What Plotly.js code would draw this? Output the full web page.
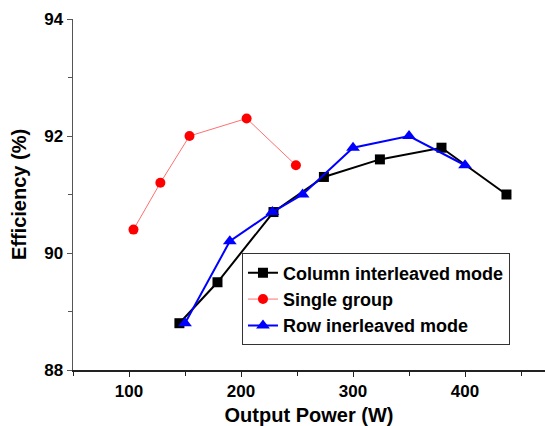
<!DOCTYPE html>
<html>
<head>
<meta charset="utf-8">
<script src="https://cdn.plot.ly/plotly-3.0.1.min.js"></script>
<style>html,body{margin:0;padding:0;background:#fff;}#chart{width:545px;height:426px;}</style>
</head>
<body>
<div id="chart"></div>
<script>
// Column interleaved mode
const colX = [145, 179, 229, 274, 324, 379, 437];
const colY = [88.8, 89.5, 90.7, 91.3, 91.6, 91.8, 91.0];
// Single group
const singleX = [104, 128, 154, 205, 249];
const singleY = [90.4, 91.2, 92.0, 92.3, 91.5];
// Row inerleaved mode
const rowX = [150, 190, 228, 255, 300, 350, 400];
const rowY = [88.8, 90.2, 90.7, 91.0, 91.8, 92.0, 91.5];

const seriesNames = ["Column interleaved mode", "Single group", "Row inerleaved mode"];
const xTicks = [100, 200, 300, 400];
const yTicks = [88, 90, 92, 94];

const FONT = "Liberation Sans, Arial, sans-serif";

const traces = [
  {x: colX, y: colY, name: seriesNames[0], mode: "lines+markers",
   line: {color: "#000000", width: 2},
   marker: {symbol: "square", size: 10, color: "#000000"}},
  {x: singleX, y: singleY, name: seriesNames[1], mode: "lines+markers",
   line: {color: "#ff7070", width: 1},
   marker: {symbol: "circle", size: 10, color: "#ff0000"}},
  {x: rowX, y: rowY, name: seriesNames[2], mode: "lines+markers",
   line: {color: "#0000ff", width: 2},
   marker: {symbol: "triangle-up", size: 12, color: "#0000ff"}}
];

const layout = {
  width: 545, height: 426,
  margin: {l: 73, r: 0, t: 19, b: 56},
  paper_bgcolor: "#ffffff", plot_bgcolor: "#ffffff",
  font: {family: FONT, color: "#000000"},
  showlegend: true,
  legend: {
    x: 0.358, y: 0.332, xanchor: "left", yanchor: "top",
    bordercolor: "#333333", borderwidth: 1, bgcolor: "#ffffff",
    font: {family: FONT, size: 18, weight: "bold", color: "#000000"}
  },
  xaxis: {
    range: [50, 471.4], tickvals: xTicks, ticks: "outside", ticklen: 5,
    tickcolor: "#222", showline: true, linecolor: "#222", linewidth: 1.5,
    showgrid: false, zeroline: false,
    tickfont: {family: FONT, size: 17, weight: "bold"},
    minor: {dtick: 50, tick0: 0, ticks: "outside", ticklen: 4, tickcolor: "#222", showgrid: false},
    title: {text: "Output Power (W)", font: {family: FONT, size: 20, weight: "bold"}, standoff: 8}
  },
  yaxis: {
    range: [88, 94], tickvals: yTicks, ticks: "outside", ticklen: 5,
    tickcolor: "#555", showline: true, linecolor: "#555", linewidth: 1.5,
    showgrid: false, zeroline: false,
    tickfont: {family: FONT, size: 17, weight: "bold"},
    minor: {dtick: 1, tick0: 88, ticks: "outside", ticklen: 4, tickcolor: "#555", showgrid: false},
    title: {text: "Efficiency (%)", font: {family: FONT, size: 20, weight: "bold"}, standoff: 12}
  }
};

Plotly.newPlot("chart", traces, layout, {displayModeBar: false, staticPlot: true});
</script>
</body>
</html>
